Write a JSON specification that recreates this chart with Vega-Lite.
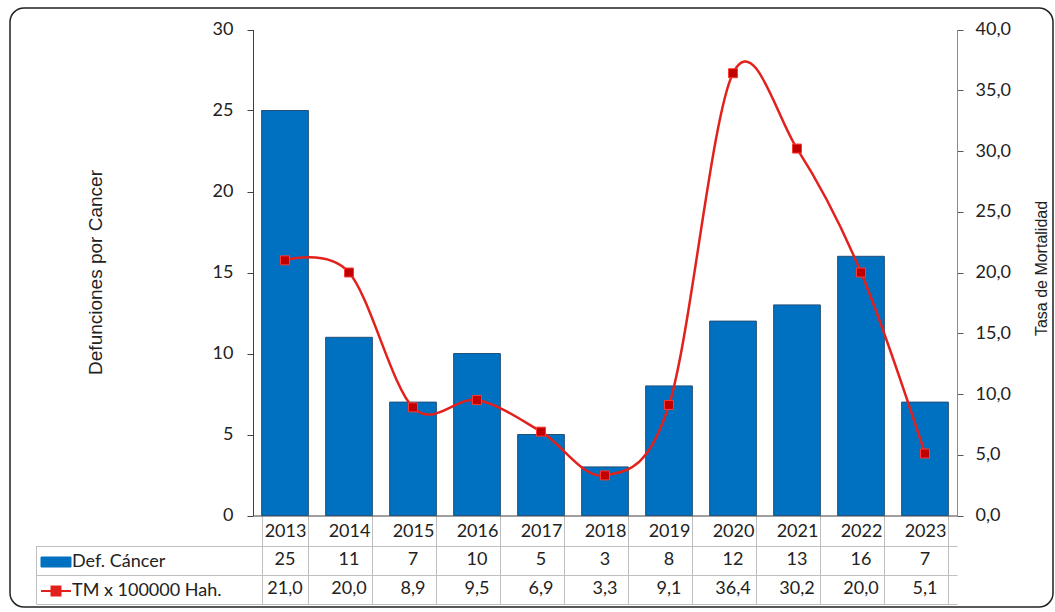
{
  "$schema": "https://vega.github.io/schema/vega-lite/v6.json",
  "width": 1043,
  "height": 599,
  "autosize": {"type": "none"},
  "padding": {"left": 10, "top": 8, "right": 2, "bottom": 5},
  "background": "white",
  "config": {
    "locale": {"number": {"decimal": ",", "thousands": ".", "grouping": [3], "currency": ["", " €"]}},
    "view": {"stroke": "#222222", "strokeWidth": 1.5, "cornerRadius": 14},
    "axis": {"labelFont": "Lato", "labelFontSize": 18, "labelColor": "#222222", "titleFont": "Liberation Sans", "titleFontWeight": "normal", "titleColor": "#222222", "grid": false}
  },
  "data": {
    "values": [
      {"year": "2013", "def": 25, "tm": 21.0},
      {"year": "2014", "def": 11, "tm": 20.0},
      {"year": "2015", "def": 7, "tm": 8.9},
      {"year": "2016", "def": 10, "tm": 9.5},
      {"year": "2017", "def": 5, "tm": 6.9},
      {"year": "2018", "def": 3, "tm": 3.3},
      {"year": "2019", "def": 8, "tm": 9.1},
      {"year": "2020", "def": 12, "tm": 36.4},
      {"year": "2021", "def": 13, "tm": 30.2},
      {"year": "2022", "def": 16, "tm": 20.0},
      {"year": "2023", "def": 7, "tm": 5.1}
    ]
  },
  "resolve": {"scale": {"y": "independent"}, "axis": {"y": "independent"}},
  "layer": [
    {
      "mark": {"type": "bar", "stroke": "#24507A", "strokeWidth": 1},
      "encoding": {
        "x": {
          "field": "year", "type": "ordinal",
          "scale": {"type": "band", "range": [243, 947], "paddingInner": 0.27, "paddingOuter": 0.135},
          "axis": {"orient": "bottom", "offset": -91.5, "title": null, "tickBand": "extent", "tickSize": 88, "tickColor": "#BFBFBF", "tickWidth": 1, "domainColor": "#404040", "labelPadding": -72.5, "labelBaseline": "middle", "labelAngle": 0}
        },
        "y": {
          "field": "def", "type": "quantitative",
          "scale": {"domain": [0, 30], "range": [507.5, 21.5], "nice": false},
          "axis": {"orient": "left", "offset": -243, "values": [0, 5, 10, 15, 20, 25, 30], "title": "Defunciones por Cancer", "titleX": -158, "titleY": 264, "titleAngle": 270, "titleAlign": "center", "titleBaseline": "middle", "titleFontSize": 19, "tickSize": 6, "labelPadding": 14, "domainColor": "#404040", "tickColor": "#404040"}
        },
        "color": {
          "datum": "Def. Cáncer", "type": "nominal",
          "scale": {"domain": ["Def. Cáncer", "TM x 100000 Hah."], "range": ["#0070C0", "#E3211C"]},
          "legend": {
            "orient": "none", "legendX": 37, "legendY": 545, "title": null, "padding": 0,
            "symbolSize": 400, "rowPadding": 11, "labelFont": "Lato", "labelFontSize": 18, "labelColor": "#222222", "labelOffset": 7,
            "symbolType": {"expr": "datum.value === 'Def. Cáncer' ? 'M-1.5,-0.5H1.5V0.5H-1.5Z' : 'M-1.5,0H1.5M-0.45,-0.45H0.45V0.45H-0.45Z'"},
            "symbolFillColor": {"expr": "datum.value === 'Def. Cáncer' ? '#0070C0' : '#C00000'"},
            "symbolStrokeColor": {"expr": "datum.value === 'Def. Cáncer' ? '#24507A' : '#E3211C'"},
            "symbolStrokeWidth": {"expr": "datum.value === 'Def. Cáncer' ? 1 : 2"},
            "symbolOpacity": 1
          }
        }
      }
    },
    {
      "mark": {"type": "line", "interpolate": "cardinal", "tension": 0, "strokeWidth": 2.5},
      "encoding": {
        "x": {"field": "year", "type": "ordinal"},
        "y": {
          "field": "tm", "type": "quantitative",
          "scale": {"domain": [0, 40], "range": [507.5, 21.5], "nice": false},
          "axis": {"orient": "right", "offset": -96, "values": [0, 5, 10, 15, 20, 25, 30, 35, 40], "format": ".1f", "title": "Tasa de Mortalidad", "titleX": 84, "titleY": 260, "titleAngle": 270, "titleAlign": "center", "titleBaseline": "middle", "titleFontSize": 16, "tickSize": 6, "labelPadding": 12, "domainColor": "#8C8C8C", "tickColor": "#595959"}
        },
        "color": {"datum": "TM x 100000 Hah.", "type": "nominal"}
      }
    },
    {
      "mark": {"type": "point", "shape": "square", "filled": true, "size": 81, "fill": "#C00000", "stroke": "#FF3B30", "strokeWidth": 1, "opacity": 1},
      "encoding": {
        "x": {"field": "year", "type": "ordinal"},
        "y": {
          "field": "tm", "type": "quantitative",
          "scale": {"domain": [0, 40], "range": [507.5, 21.5], "nice": false},
          "axis": null
        }
      }
    },
    {
      "transform": [{"fold": ["def", "tm"], "as": ["serie", "valor"]}],
      "mark": {"type": "text", "font": "Lato", "fontSize": 18, "color": "#222222", "baseline": "middle"},
      "encoding": {
        "x": {"field": "year", "type": "ordinal"},
        "y": {
          "field": "serie", "type": "nominal",
          "scale": {"type": "band", "domain": ["def", "tm"], "range": [537.5, 595.5], "paddingInner": 0, "paddingOuter": 0},
          "axis": {"orient": "left", "offset": -26, "title": null, "labels": false, "tickBand": "extent", "tickSize": -921, "tickColor": "#BFBFBF", "domainColor": "#BFBFBF"}
        },
        "text": {
          "condition": {"test": "datum.serie === 'def'", "field": "valor", "type": "quantitative", "format": "d"},
          "field": "valor", "type": "quantitative", "format": ".1f"
        }
      }
    }
  ]
}
